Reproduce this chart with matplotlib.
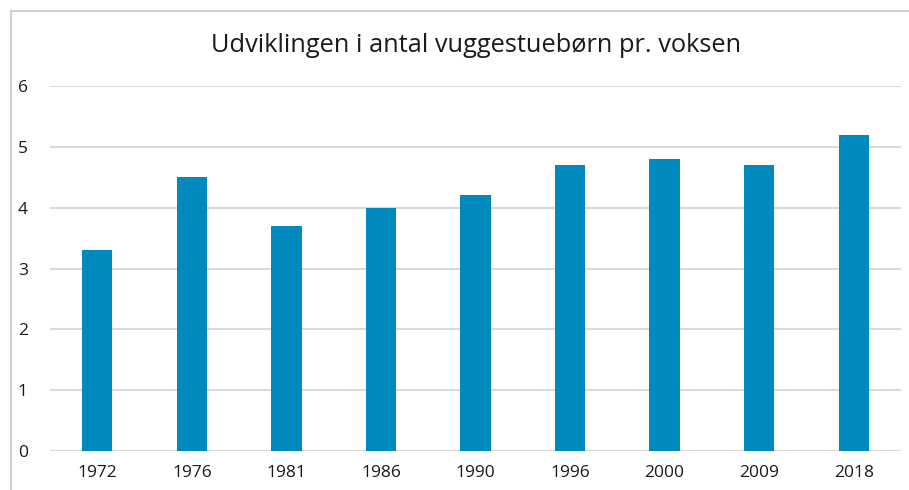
import matplotlib.pyplot as plt
from matplotlib.patches import Rectangle

# Data
years = ["1972", "1976", "1981", "1986", "1990", "1996", "2000", "2009", "2018"]
children_per_adult = [3.3, 4.5, 3.7, 4.0, 4.2, 4.7, 4.8, 4.7, 5.2]
y_ticks = [0, 1, 2, 3, 4, 5, 6]

bar_color = "#0089BD"
grid_color = "#D9D9D9"

plt.rcParams["font.family"] = ["Open Sans", "DejaVu Sans"]

fig = plt.figure(figsize=(9.09, 4.90), dpi=100)
ax = fig.add_axes([50/909, 1 - 451/490, 851/909, 365/490])

x = range(len(years))
ax.bar(x, children_per_adult, width=0.32, color=bar_color, zorder=3)

ax.set_xlim(-0.5, len(years) - 0.5)
ax.set_ylim(0, 6)
ax.set_yticks(y_ticks)
ax.set_xticks(list(x))
ax.set_xticklabels(years)
ax.tick_params(axis="both", length=0, labelsize=12.5, colors="#1a1a1a")
ax.tick_params(axis="y", pad=16)
ax.tick_params(axis="x", pad=10)

ax.grid(axis="y", color=grid_color, linewidth=1.5, zorder=0)
for s in ax.spines.values():
    s.set_visible(False)

fig.suptitle("Udviklingen i antal vuggestuebørn pr. voksen", x=476/909, y=1 - 46/490,
             va="center", fontsize=18.3, color="#1a1a1a")

# frame around the chart (right/bottom edges are cropped off)
fig.add_artist(Rectangle((11/909, -0.1), 1.2, 1 - 11/490 + 0.1, transform=fig.transFigure,
                         fill=False, edgecolor="#D0D0D0", linewidth=1.5))

fig.savefig("out.png", dpi=100)
